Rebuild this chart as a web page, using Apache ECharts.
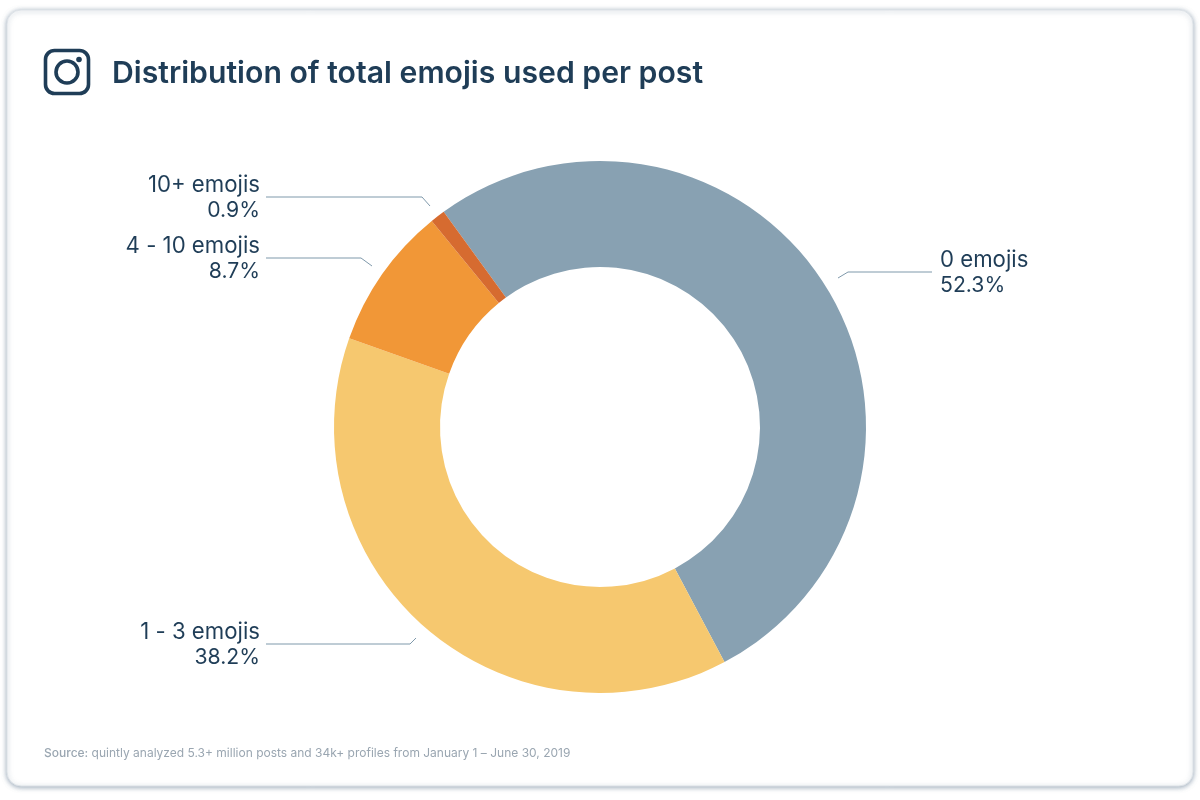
<!DOCTYPE html>
<html><head><meta charset="utf-8">
<script src="https://cdn.jsdelivr.net/npm/echarts@6/dist/echarts.min.js"></script>
<style>html,body{margin:0;padding:0;background:#fff}#c{width:1200px;height:800px}</style>
</head><body><div id="c"></div>
<script>
const categories = ['0 emojis','1 - 3 emojis','4 - 10 emojis','10+ emojis'];
const values = [52.3,38.2,8.7,0.9];
const colors = ['#88A1B2','#F6C86F','#F19737','#D66B30'];
const titleText = 'Distribution of total emojis used per post';
const sourceText = 'quintly analyzed 5.3+ million posts and 34k+ profiles from January 1 – June 30, 2019';
const ink = '#1F3D57';
const labelAnchors = [
  {x:940,y:273,align:'left',line:[[838,278],[848,272],[932,272]]},
  {x:260,y:645,align:'right',line:[[416,638],[410,644],[266,644]]},
  {x:260,y:259,align:'right',line:[[372,266],[361,258],[266,258]]},
  {x:260,y:198,align:'right',line:[[430,206],[422,197],[266,197]]}
];
const chart = echarts.init(document.getElementById('c'),null,{renderer:'canvas'});
chart.setOption({
  animation:false,
  backgroundColor:'#ffffff',
  title:{text:titleText,left:107,top:54,textStyle:{fontFamily:'Inter',fontSize:30.2,fontWeight:600,color:ink}},
  graphic:[
    {type:'rect',z:-10,shape:{x:7,y:10,width:1186,height:776,r:14},
     style:{fill:'#fff',stroke:'#DDE2E7',lineWidth:1,shadowBlur:5,shadowColor:'rgba(90,115,140,0.6)',shadowOffsetY:1}},
    {type:'rect',shape:{x:45.5,y:50.5,width:43,height:43,r:9},style:{fill:'none',stroke:ink,lineWidth:3.6}},
    {type:'circle',shape:{cx:67,cy:72,r:11},style:{fill:'none',stroke:ink,lineWidth:3.6}},
    {type:'circle',shape:{cx:79,cy:59.5,r:2.8},style:{fill:ink}},
    {type:'text',x:44,y:747,style:{text:'{b|Source:} '+sourceText,font:'12px Inter',fill:'#9AA6B1',
      rich:{b:{fontFamily:'Inter',fontSize:12,fontWeight:500,color:'#9AA6B1'}}}}
  ],
  series:[{
    type:'pie',
    center:[600,427],
    radius:[160,266],
    startAngle:126,
    clockwise:true,
    avoidLabelOverlap:false,
    silent:true,
    itemStyle:{borderWidth:0},
    data:categories.map((n,i)=>({name:n,value:values[i],itemStyle:{color:colors[i]}})),
    label:{show:true,formatter:p=>'{n|'+p.name+'}\n{v|'+p.value.toFixed(1)+'%}',
      rich:{n:{fontFamily:'Inter',fontSize:22.2,lineHeight:26,color:ink},v:{fontFamily:'Inter',fontSize:21.2,lineHeight:26,color:ink}}},
    labelLine:{show:true,lineStyle:{color:'#7F99AB',width:1}},
    labelLayout:p=>{const a=labelAnchors[p.dataIndex];return {x:a.x,y:a.y,align:a.align,verticalAlign:'middle',labelLinePoints:a.line};}
  }]
});
</script></body></html>
